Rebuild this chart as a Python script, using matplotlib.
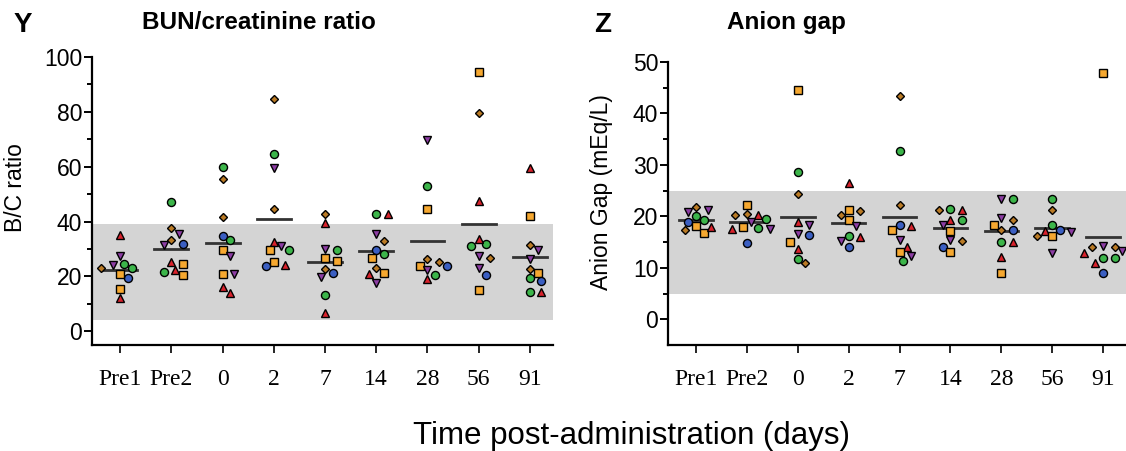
import numpy as np
import matplotlib
matplotlib.use("Agg")
import matplotlib.pyplot as plt

plt.rcParams['font.family'] = ['Liberation Sans', 'DejaVu Sans']

# time points
days = ["Pre1", "Pre2", "0", "2", "7", "14", "28", "56", "91"]

# shape codes: t=up triangle, v=down triangle, g=green circle,
# b=blue circle, s=square, d=diamond
bc_shapes = ["ttvvggbssd", "gddvbvttsgs", "gddbgsvsvtt", "dgvdtsgvsbt",
             "dtvgssdvbgt", "gtvdbgsdtsv", "vgsddsbvgt", "sdtggtdvvbs",
             "tsdvvdsbggt"]
bc_values = [
    [35, 12, 27.5, 24, 24.5, 23, 19.5, 21, 15.5, 23],
    [47.3, 37.8, 33.2, 31.6, 32, 35.3, 25.2, 22.2, 20.7, 21.6, 24.4],
    [60, 55.6, 41.6, 34.7, 33.2, 29.6, 27.6, 21, 21, 16.2, 13.8],
    [84.7, 64.7, 59.5, 44.7, 32.6, 29.6, 29.6, 31, 25.2, 23.7, 24.1],
    [42.9, 39.5, 30, 29.8, 26.8, 25.6, 22.8, 19.8, 21.1, 13.1, 6.5],
    [42.9, 42.9, 35.5, 32.8, 29.6, 28, 26.8, 23.2, 21, 21.1, 17.5],
    [69.8, 52.8, 44.7, 25.2, 26.4, 23.7, 23.7, 22.3, 20.7, 19.2],
    [94.7, 79.7, 47.6, 31.9, 31, 33.5, 26.8, 27.4, 23.2, 20.7, 15],
    [59.5, 42.2, 31.6, 29.6, 26.2, 22.8, 21.3, 18.3, 19.5, 14.3, 14.3],
]

ag_shapes = ["dvvgbsstdg", "sddtgvgtvsb", "sgdtvbvstgd", "tdsdsvgtvb",
             "dgdbstvtsvg", "gtdtgvsvdbs", "gvdvsdbgtts", "gdgbtvsdv",
             "svddvtggtb"]
ag_values = [
    [21.8, 21.2, 20.9, 20, 18.9, 18.1, 16.8, 17.9, 17.3, 19.2],
    [22.2, 20.5, 20.2, 20.3, 19.5, 19, 17.8, 17.6, 17.6, 17.9, 14.9],
    [44.6, 28.6, 24.4, 18.9, 18.4, 16.3, 16.5, 15.1, 13.6, 11.8, 11],
    [26.5, 21, 21.3, 20.2, 19.2, 18.2, 16.1, 16, 15.2, 14],
    [43.4, 32.8, 22.3, 18.3, 17.3, 18.1, 15.4, 14.1, 13, 12.3, 11.4],
    [21.5, 21.3, 21.3, 19.2, 19.2, 18.3, 17.2, 15.4, 15.2, 14.1, 13],
    [23.3, 23.4, 19.2, 19.6, 18.3, 17.3, 17.3, 15.1, 15.1, 12.1, 8.9],
    [23.4, 21.3, 18.3, 17.3, 17.1, 17, 16.1, 16.1, 12.9],
    [47.8, 14.2, 14, 14, 13.2, 12.9, 12, 12, 11, 8.9],
]

styles = {
    't': dict(marker='^', color='#d8222c', ms=6.2),
    'v': dict(marker='v', color='#8c3da3', ms=6.2),
    'g': dict(marker='o', color='#3cb54a', ms=5.8),
    'b': dict(marker='o', color='#3b5fc2', ms=5.8),
    's': dict(marker='s', color='#f6a830', ms=5.4),
    'd': dict(marker='D', color='#b97a25', ms=4.3),
}


def swarm(ax, x0, vals, diam=8.5):
    # greedy beeswarm in pixel space, returns x in data units
    trans = ax.transData
    pts = trans.transform(np.column_stack([np.full(len(vals), x0), vals]))
    order = np.argsort(-np.asarray(vals))
    placed = []
    xs = np.zeros(len(vals))
    step = diam * 0.45
    for i in order:
        px, py = pts[i]
        for k in range(40):
            off = ((k + 1) // 2) * step * (1 if k % 2 else -1)
            ok = all((px + off - qx) ** 2 + (py - qy) ** 2 >= diam ** 2 for qx, qy in placed)
            if ok:
                break
        placed.append((px + off, py))
        xs[i] = trans.inverted().transform((px + off, py))[0]
    return xs


def panel(ax, shapes, values, ylim, band, yticks, minor, ylabel, lab_xy):
    ax.set_xlim(-0.55, 8.45)
    ax.set_ylim(*ylim)
    ax.axhspan(band[0], band[1], color='#d4d4d4', lw=0, zorder=0)
    for gi, (sh, vals) in enumerate(zip(shapes, values)):
        xs = swarm(ax, gi, vals)
        for x, v, s in zip(xs, vals, sh):
            st = styles[s]
            ax.plot(x, v, linestyle='none', marker=st['marker'], ms=st['ms'],
                    mfc=st['color'], mec='black', mew=1.0, zorder=3)
        m = np.mean(vals)
        ax.plot([gi - 0.33, gi + 0.33], [m, m], color='#333333', lw=2, zorder=2)

    for sp in ['top', 'right']:
        ax.spines[sp].set_visible(False)
    ax.spines['left'].set_linewidth(1.6)
    ax.spines['bottom'].set_linewidth(1.6)
    ax.spines['left'].set_bounds(ylim[0], yticks[-1])
    ax.set_yticks(yticks)
    ax.set_yticks(minor, minor=True)
    ax.tick_params(axis='y', which='major', length=6, width=1.4, labelsize=16.5, pad=1)
    ax.tick_params(axis='y', which='minor', length=3.5, width=1.4)
    ax.set_xticks(range(len(days)))
    ax.set_xticklabels(days, fontfamily='Liberation Serif', fontsize=17)
    ax.tick_params(axis='x', length=6, width=1.2, pad=11)
    ax.set_ylabel(ylabel, fontsize=16.5)
    ax.yaxis.set_label_coords(*lab_xy)


fig = plt.figure(figsize=(11.26, 4.51), dpi=100)
ax1 = fig.add_axes([0.0817, 0.235, 0.4094, 0.6386])
ax2 = fig.add_axes([0.5933, 0.235, 0.4067, 0.6275])

panel(ax1, bc_shapes, bc_values, (-5, 100), (4, 39), [0, 20, 40, 60, 80, 100],
      [10, 30, 50, 70, 90], "B/C ratio", (-0.141, 0.547))
panel(ax2, ag_shapes, ag_values, (-5, 50), (5, 25), [0, 10, 20, 30, 40, 50],
      [5, 15, 25, 35, 45], "Anion Gap (mEq/L)", (-0.120, 0.539))

fig.text(0.012, 0.944, "Y", fontsize=20, fontweight='bold', ha='left', va='center')
fig.text(0.126, 0.950, "BUN/creatinine ratio", fontsize=17.5, fontweight='bold',
         ha='left', va='center')
fig.text(0.528, 0.944, "Z", fontsize=20, fontweight='bold', ha='left', va='center')
fig.text(0.646, 0.950, "Anion gap", fontsize=17.5, fontweight='bold',
         ha='left', va='center')

fig.text(0.561, 0.016, "Time post-administration (days)", fontsize=22.5,
         ha='center', va='baseline')

fig.savefig("out.png", dpi=100)
